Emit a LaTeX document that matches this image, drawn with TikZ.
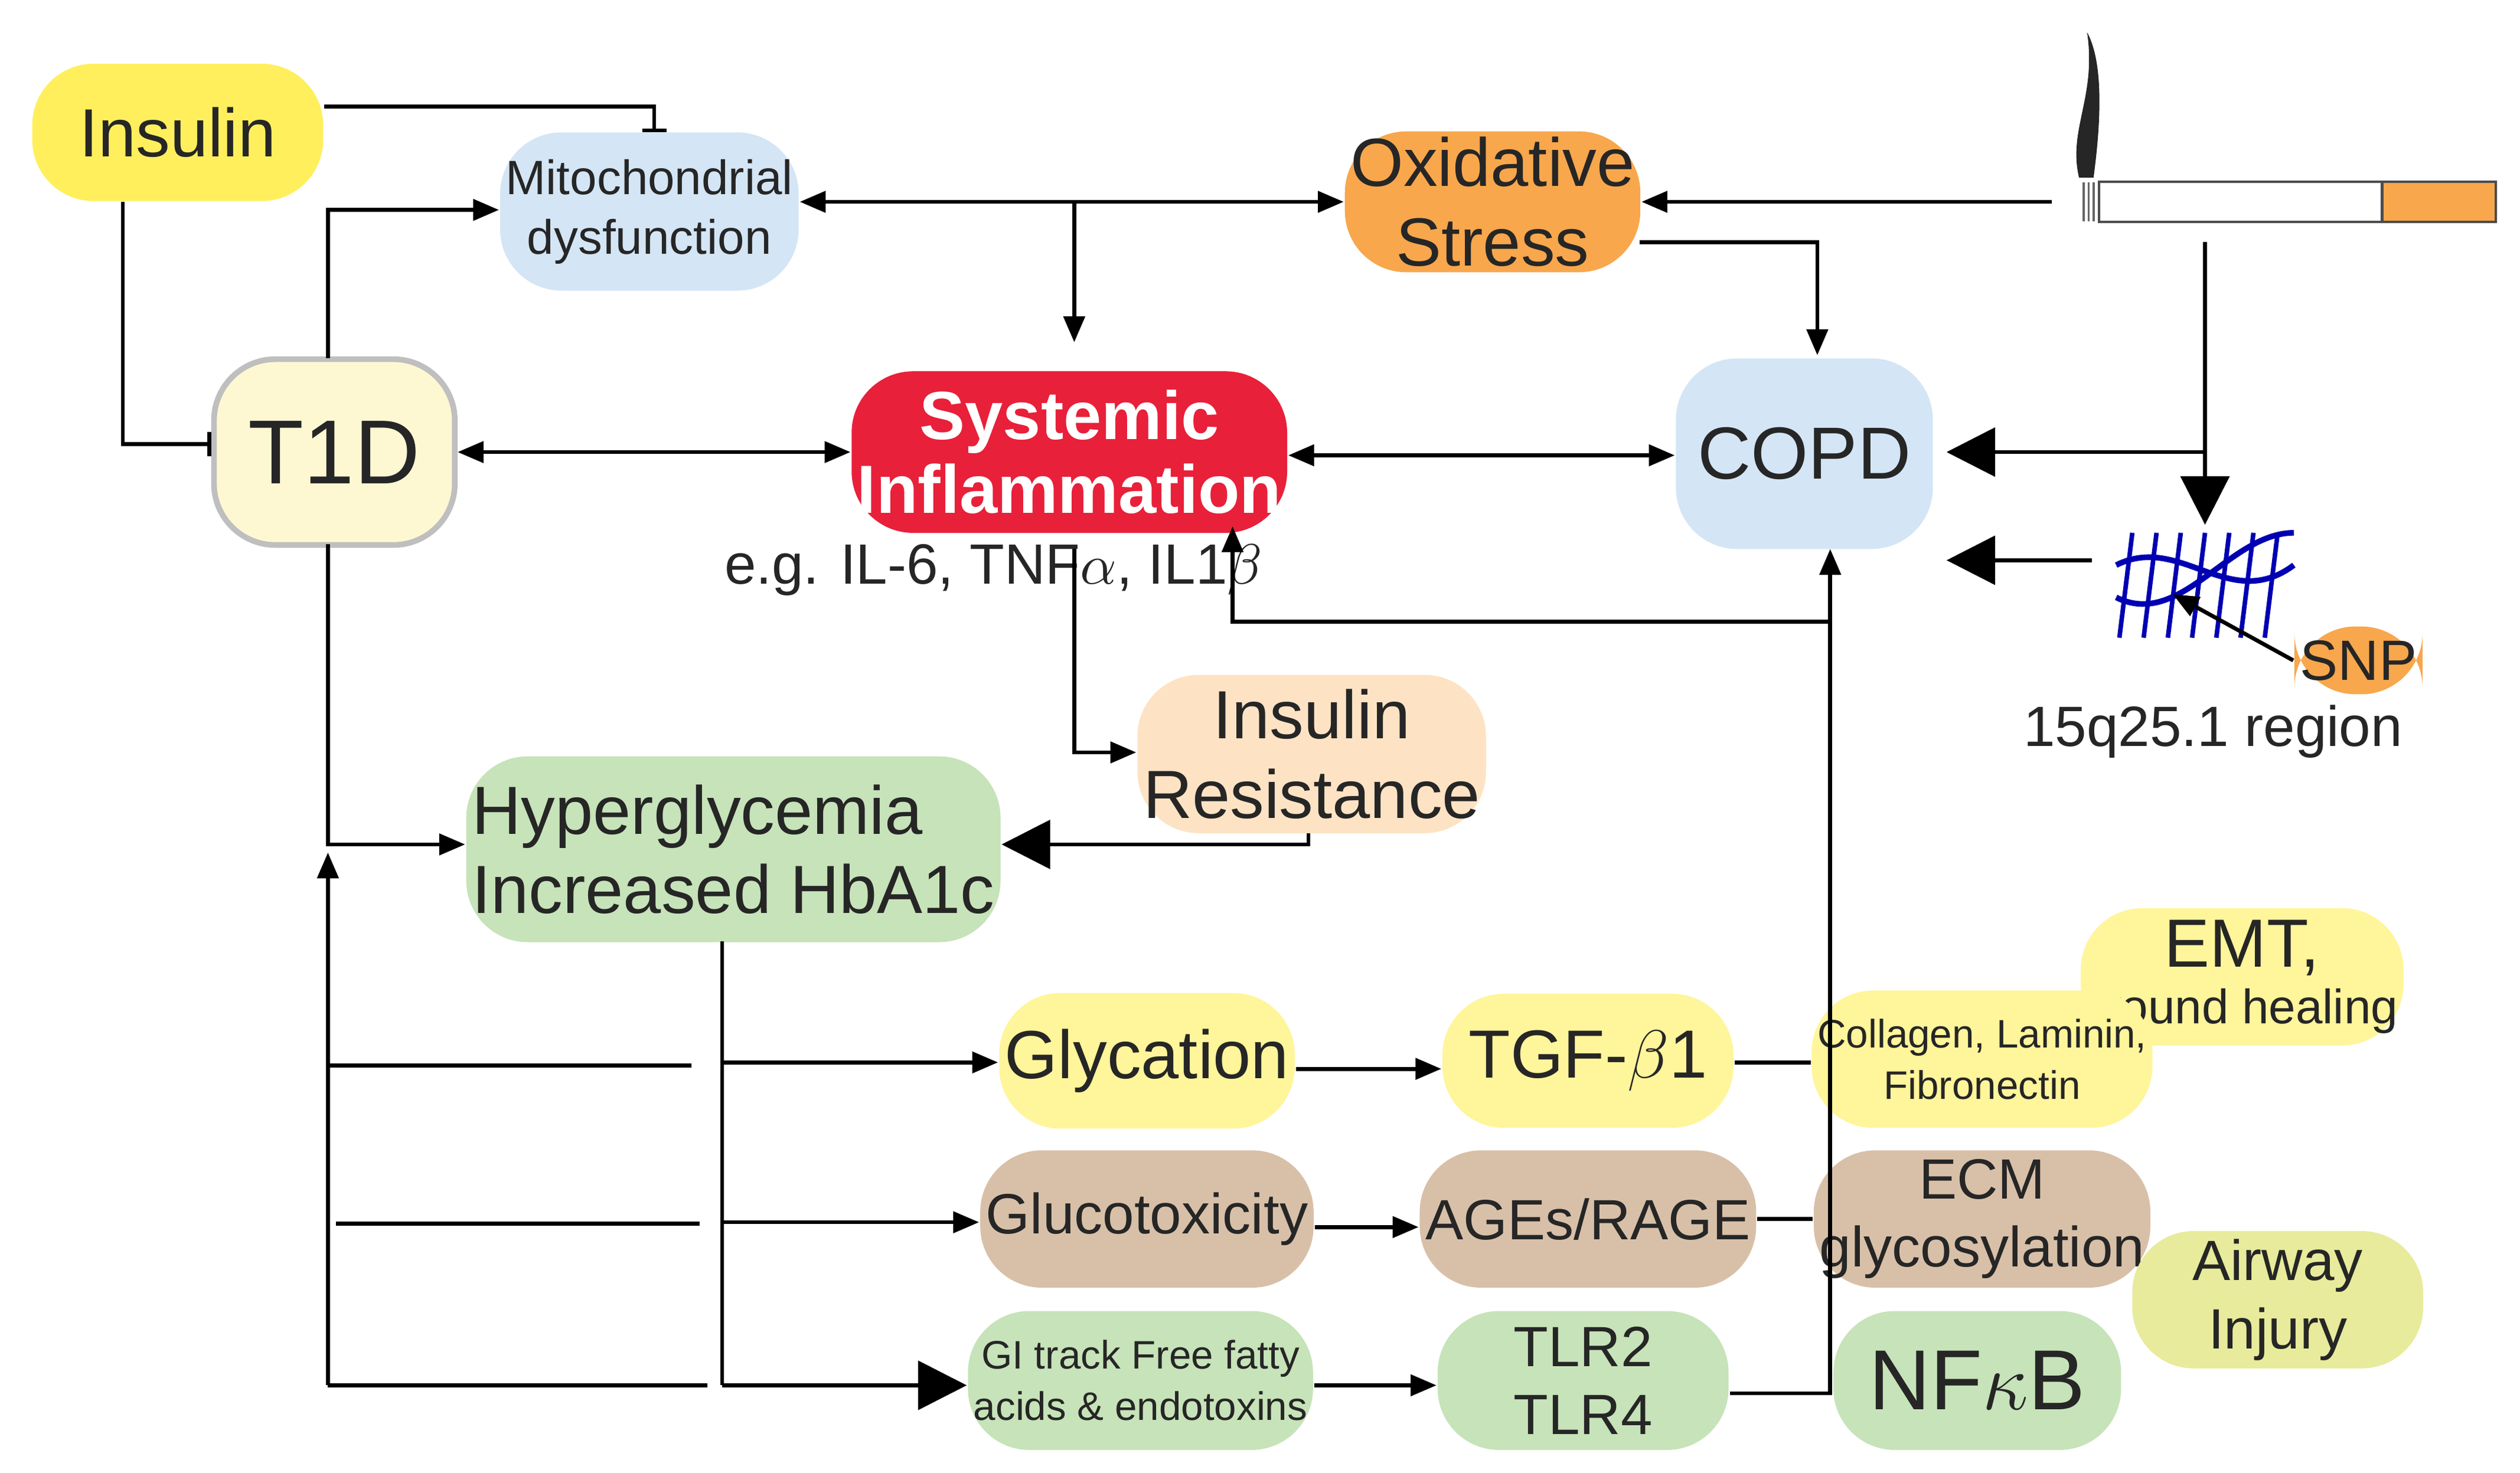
\documentclass[tikz,border=0pt]{standalone}
\usepackage{fontspec}
\setmainfont{Liberation Sans}
\usetikzlibrary{arrows.meta,positioning}
\definecolor{cyel}{HTML}{FFEF5C}
\definecolor{cyel2}{HTML}{FFF59A}
\definecolor{cblue}{HTML}{D4E5F5}
\definecolor{corg}{HTML}{F8A74C}
\definecolor{cred}{HTML}{E8203A}
\definecolor{cpale}{HTML}{FEF8D2}
\definecolor{cpeach}{HTML}{FDE3C4}
\definecolor{cgreen}{HTML}{C7E3B9}
\definecolor{ctan}{HTML}{D8C0A8}
\definecolor{cyg}{HTML}{E7EB9B}
\tikzset{
 box/.style={rounded corners=0.38cm,align=center,inner sep=1pt,text=black!85},
 ar/.style={-{Triangle[length=0.16cm,width=0.13cm]},line width=0.7pt},
 dar/.style={{Triangle[length=0.16cm,width=0.13cm]}-{Triangle[length=0.16cm,width=0.13cm]},line width=0.7pt},
 bar/.style={ar,-{Triangle[length=0.3cm,width=0.3cm]}},
 ln/.style={line width=0.7pt},
 inh/.style={-{Bar[width=0.15cm]},line width=0.7pt},
 fA/.style={font=\fontsize{12}{14}\selectfont},
 fB/.style={font=\fontsize{8.5}{10.5}\selectfont},
 fC/.style={font=\fontsize{10}{12}\selectfont},
 fD/.style={font=\fontsize{6.5}{8}\selectfont},
}
\begin{document}
\begin{tikzpicture}[x=0.01cm,y=-0.01cm]
\useasboundingbox (0,0) rectangle (1560,912);
\node[box,fill=cyel,minimum width=1.8cm,minimum height=0.85cm,fA] (ins) at (110,82) {Insulin};
\node[box,fill=cblue,minimum width=1.68cm,minimum height=0.98cm,fB] (mito) at (402,131) {Mitochondrial\\dysfunction};
\node[box,fill=corg,minimum width=1.82cm,minimum height=0.85cm,fA] (ox) at (924,125) {Oxidative\\Stress};
\node[box,fill=cpale,draw=black!25,line width=1pt,minimum width=1.49cm,minimum height=1.15cm,font=\fontsize{16}{18}\selectfont] (t1d) at (207,280) {T1D};
\node[box,fill=cred,minimum width=2.65cm,minimum height=1.0cm,text=white,font=\fontsize{12}{13}\selectfont\bfseries] (si) at (662,280) {Systemic\\Inflammation};
\node[box,fill=cblue,minimum width=1.59cm,minimum height=1.18cm,font=\fontsize{13}{15}\selectfont] (copd) at (1117,281) {COPD};
\node[fC,text=black!85] (eg) at (615,353) {e.g. IL-6, TNF$\alpha$, IL1$\beta$};
\node[box,fill=cpeach,minimum width=2.11cm,minimum height=0.98cm,fA] (ir) at (812,467) {Insulin\\Resistance};
\node[box,fill=cgreen,minimum width=3.16cm,minimum height=1.15cm,fA,align=left] (hg) at (454,526) {Hyperglycemia\\Increased HbA1c};
\node[box,fill=cyel2,minimum width=1.8cm,minimum height=0.85cm,align=center] (emt) at (1388,605) {{\fontsize{12}{13}\selectfont EMT,}\\[-2pt]{\fontsize{8.5}{10}\selectfont wound healing}};
\node[box,fill=cyel2,minimum width=1.8cm,minimum height=0.84cm,fA] (gly) at (710,657) {Glycation};
\node[box,fill=cyel2,minimum width=1.8cm,minimum height=0.83cm,fA] (tgf) at (983,657) {TGF-$\beta$1};
\node[box,fill=cyel2,minimum width=1.8cm,minimum height=0.85cm,font=\fontsize{7}{9}\selectfont] (col) at (1227,656) {Collagen, Laminin,\\Fibronectin};
\node[box,fill=ctan,minimum width=1.8cm,minimum height=0.85cm,fC] (glu) at (710,755) {Glucotoxicity};
\node[box,fill=ctan,minimum width=1.8cm,minimum height=0.85cm,fC] (age) at (983,755) {AGEs/RAGE};
\node[box,fill=ctan,minimum width=1.8cm,minimum height=0.85cm,fC] (ecm) at (1227,755) {ECM\\glycosylation};
\node[box,fill=cyg,minimum width=1.8cm,minimum height=0.85cm,fC] (air) at (1410,805) {Airway\\Injury};
\node[box,fill=cgreen,minimum width=1.82cm,minimum height=0.86cm,font=\fontsize{7}{9}\selectfont] (gi) at (706,855) {GI track Free fatty\\acids \& endotoxins};
\node[box,fill=cgreen,minimum width=1.8cm,minimum height=0.86cm,fC] (tlr) at (980,855) {TLR2\\TLR4};
\node[box,fill=cgreen,minimum width=1.78cm,minimum height=0.86cm,font=\fontsize{15}{17}\selectfont] (nf) at (1224,855) {NF$\kappa$B};
\node[box,fill=corg,minimum width=0.7cm,minimum height=0.42cm,fC] (snp) at (1460,409) {SNP};
\node[fC,text=black!85] (reg) at (1370,453) {15q25.1 region};
% cigarette
\node[draw=black!70,fill=white,minimum width=1.75cm,minimum height=0.25cm,inner sep=0pt] (cig) at (1387,125) {};
\fill[corg,draw=black!70] (1475,112.5) rectangle (1545,137.5);
\foreach \i in {1290,1293,1296}{\draw[black!60] (\i,113)--(\i,137);}
\fill[black!85] (1287,110) .. controls (1280,80) and (1298,60) .. (1292,20) .. controls (1303,40) and (1300,80) .. (1296,110) -- cycle;
\coordinate (cigL) at (1270,125);
% DNA
\coordinate (dna) at (1365,325);
\draw[blue!70!black,line width=1pt] (1310,350) .. controls (1350,330) and (1380,380) .. (1420,350);
\draw[blue!70!black,line width=1pt] (1310,370) .. controls (1350,390) and (1380,330) .. (1420,330);
\foreach \x in {1320,1335,1350,1365,1380,1395,1410}{\draw[blue!70!black,line width=0.8pt] (\x,330)--(\x-8,395);}
\coordinate (dnaL) at (1295,347);
\coordinate (dnaT) at (1345,368);
% connectors
\draw[inh] (ins.east|-0,66) -- (405,66) -- (405,82);
\draw[inh] (76,125) -- (76,275) -- (t1d.west|-0,275);
\draw[ar] (203,222) -- (203,130) -- (mito.west|-0,130);
\draw[dar] (mito.east|-0,125) -- (ox.west|-0,125);
\draw[ar] (665,125) -- (665,212);
\draw[ar] (cigL) -- (ox.east|-0,125);
\draw[ar] (1015,150) -- (1125,150) -- (1125,220);
\draw[dar] (t1d.east|-0,280) -- (si.west|-0,280);
\draw[dar] (si.east|-0,282) -- (copd.west|-0,282);
\draw[bar] (1365,150) -- (1365,280) -- (1205,280);
\draw[bar] (1365,280) -- (dna);
\draw[bar] (dnaL) -- (1205,347);
\draw[ar] (snp.west) -- (dnaT);
\draw[ar] (665,340) -- (665,466) -- (ir.west|-0,466);
\draw[bar] (810,516) -- (810,523) -- (hg.east|-0,523);
\draw[ar] (203,337) -- (203,523) -- (hg.west|-0,523);
\draw[ar] (203,858) -- (203,528);
\draw[ln] (203,660) -- (428,660);
\draw[ln] (208,758) -- (433,758);
\draw[ln] (203,858) -- (438,858);
\draw[ln] (447,583) -- (447,858);
\draw[ar] (447,658) -- (gly.west|-0,658);
\draw[ar] (447,757) -- (glu.west|-0,757);
\draw[bar] (447,858) -- (gi.west|-0,858);
\draw[ar] (gly.east|-0,662) -- (tgf.west|-0,662);
\draw[ar] (glu.east|-0,760) -- (age.west|-0,760);
\draw[ar] (gi.east|-0,858) -- (tlr.west|-0,858);
\draw[ln] (tgf.east|-0,658) -- (col.west|-0,658);
\draw[ln] (age.east|-0,755) -- (ecm.west|-0,755);
\draw[ln] (tlr.east|-0,863) -- (nf.west|-0,863);
\draw[ar] (1133,863) -- (1133,340);
\draw[ar] (1133,385) -- (763,385) -- (763,326);
\end{tikzpicture}
\end{document}
